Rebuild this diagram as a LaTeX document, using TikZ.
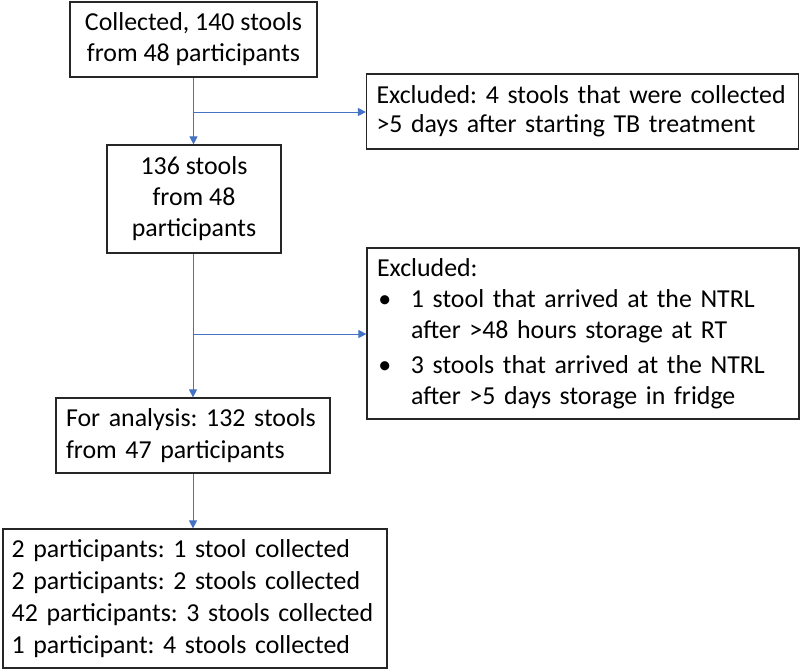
\documentclass[tikz,border=0pt]{standalone}
\usepackage{fontspec}
\setmainfont{Carlito}
\usetikzlibrary{arrows.meta}
\definecolor{flowblue}{RGB}{68,114,196}
\newcommand{\bitem}{\makebox[25.5pt][l]{\hspace{1pt}\textbullet}}
\newcommand{\bcont}{\hspace*{25.5pt}}
\frenchspacing
\hyphenpenalty=10000

\begin{document}
\begin{tikzpicture}[x=0.75pt,y=-0.75pt,
    box/.style={draw=black!85,line width=0.9pt,rectangle,inner ysep=0pt,
      font=\fontsize{19.4}{23.25}\selectfont},
    cbox/.style={box,align=center,inner xsep=0pt},
    lbox/.style={box,align=left},
    flow/.style={draw=flowblue,line width=0.75pt},
    arr/.style={flow,-{Triangle[length=6pt,width=6pt]}}]
  \useasboundingbox (0,0) rectangle (800,671);

  % main column
  \node[cbox,minimum width=185.25pt,minimum height=56.25pt] (collected) at (193.5,39.5)
    {Collected, 140 stools\\from 48 participants};
  \node[cbox,minimum width=130.5pt,minimum height=81pt] (remain) at (194,199)
    {136 stools\\from 48\\participants};
  \node[lbox,inner xsep=7.5pt,text width=190.5pt,minimum height=56.25pt,
    font=\fontsize{19.4}{24.5}\selectfont] (analysis) at (193,435.5)
    {For analysis: 132 stools\\from 47 participants};
  \node[lbox,inner xsep=6.5pt,text width=275pt,minimum height=104.25pt,
    font=\fontsize{19.4}{24}\selectfont] (summary) at (195,598.5)
    {2 participants: 1 stool collected\\
     2 participants: 2 stools collected\\
     42 participants: 3 stools collected\\
     1 participant: 4 stools collected};

  % exclusions
  \node[lbox,inner xsep=7.5pt,text width=309pt,minimum height=56.25pt,
    font=\fontsize{19.4}{22}\selectfont] (excl1) at (582.5,111.5)
    {Excluded: 4 stools that were collected\\>5 days after starting TB treatment};
  \node[lbox,inner xsep=7.5pt,text width=309pt,minimum height=128.25pt] (excl2) at (583,333.5)
    {Excluded:\\
     \bitem 1 stool that arrived at the NTRL\\
     \bcont after >48 hours storage at RT\\[3pt]
     \bitem 3 stools that arrived at the NTRL\\
     \bcont after >5 days storage in fridge};

  \coordinate (split1) at (193,112);
  \coordinate (split2) at (193,334);

  \draw[arr] (collected.south) -- (collected.south |- remain.north);
  \draw[arr] (split1) -- (split1 -| excl1.west);
  \draw[arr] (remain.south -| split2) -- (split2 |- analysis.north);
  \draw[arr] (split2) -- (split2 -| excl2.west);
  \draw[arr] (analysis.south -| split2) -- (split2 |- summary.north);
\end{tikzpicture}
\end{document}
